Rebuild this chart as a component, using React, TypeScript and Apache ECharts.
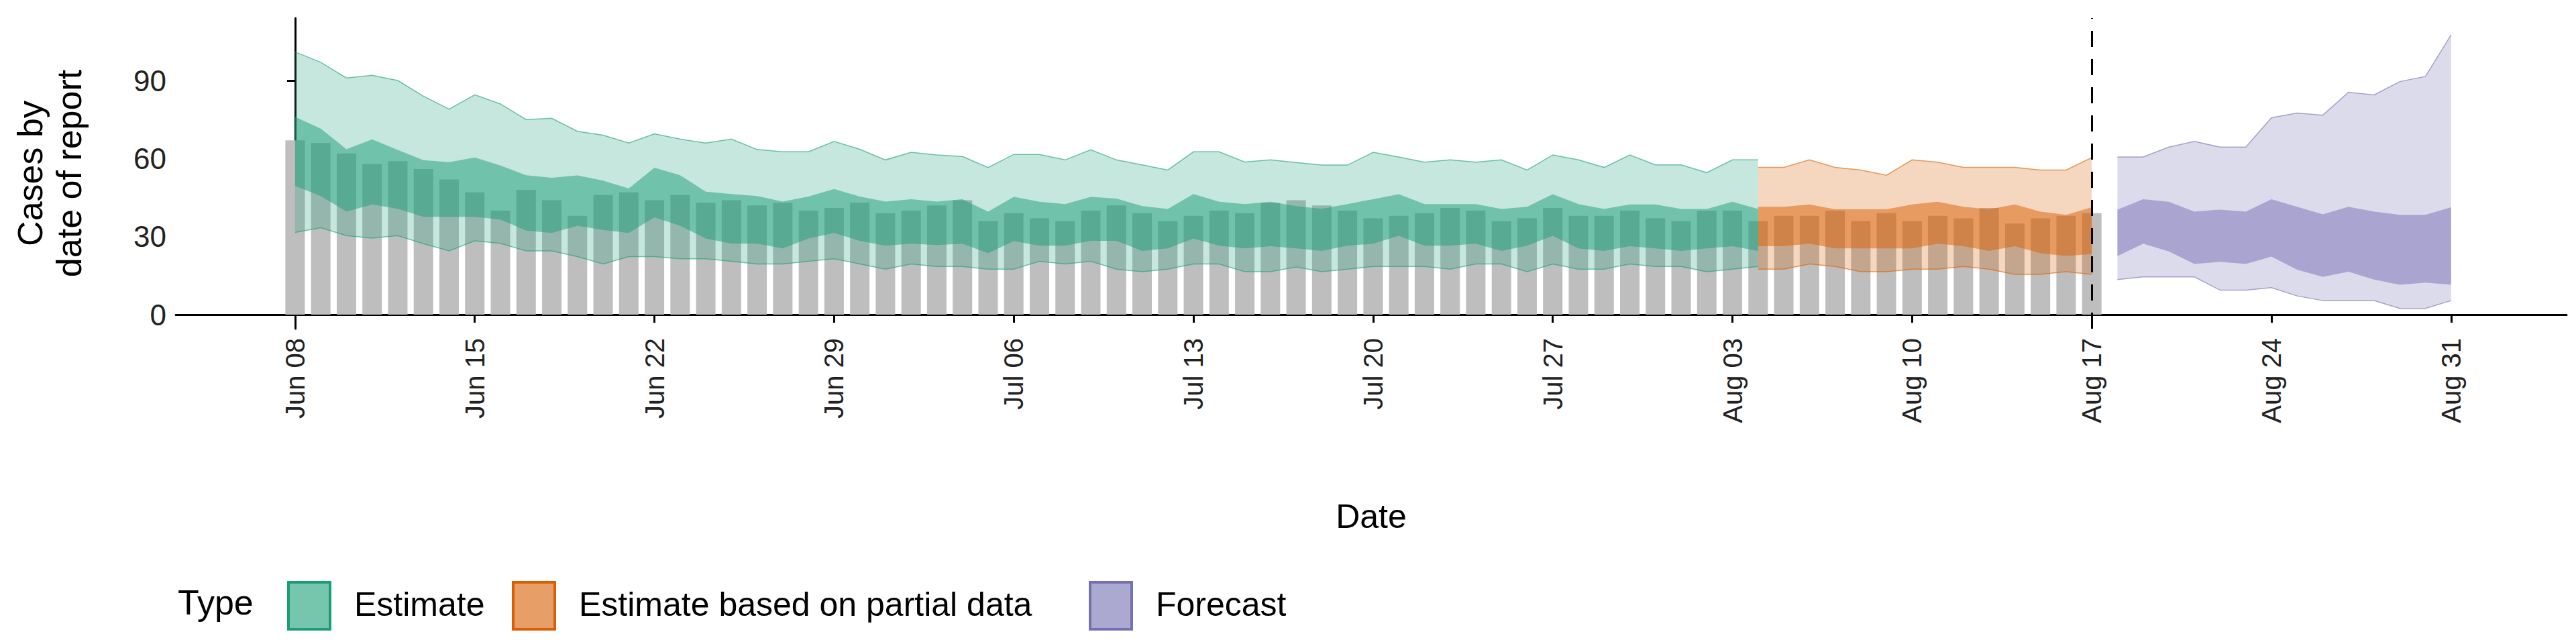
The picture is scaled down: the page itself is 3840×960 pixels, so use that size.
import React, { useEffect, useRef } from "react";
import * as echarts from "echarts";

// day 0 = Jun 08
const startDay = { month: 5, day: 8 };
const months = ["Jan", "Feb", "Mar", "Apr", "May", "Jun", "Jul", "Aug", "Sep", "Oct", "Nov", "Dec"];
const yTicks = [0, 30, 60, 90];
const xTicks = [0, 7, 14, 21, 28, 35, 42, 49, 56, 63, 70, 77, 84];

// reported cases Jun 08 .. Aug 17
const reported = [
  67, 66, 62, 58, 59, 56, 52, 47, 40, 48, 44, 38, 46, 47, 44, 46, 43, 44, 42, 43, 40, 41, 43, 39, 40,
  42, 44, 36, 39, 37, 36, 40, 42, 39, 36, 38, 40, 39, 43, 44, 42, 40, 37, 38, 39, 41, 40, 36, 37, 41, 38,
  38, 40, 37, 36, 40, 40, 36, 38, 38, 40, 36, 39, 36, 38, 37, 41, 35, 37, 38, 39,
];

// Estimate: Jun 08 .. Aug 03 (days 0..56)
const estStart = 0;
const estUpper90 = [
  101, 97, 91, 92, 90, 84, 79, 84.5, 81, 75, 75.5, 70.5, 69, 66, 69.5, 67.5, 66, 67.5, 63.5, 62.6, 62.6, 66.6, 63.6, 59.5, 62.4,
  61.4, 60.8, 56.6, 61.6, 61.6, 59.5, 63.4, 59.5, 57.6, 55.6, 62.6, 62.6, 58.7, 59.5, 58.5, 57.5, 57.5, 62.4, 60.6, 58.6, 59.5, 58.6, 59.5, 55.6, 61.4, 59.5,
  56.6, 61.4, 57.6, 57.6, 54.6, 59.5, 59.5,
];
const estUpper50 = [
  76, 71.5, 63.6, 67.4, 63.3, 59.4, 58.6, 60.4, 57.3, 53.6, 52.6, 53.5, 51.5, 48.5, 56.5, 53.6, 47.3, 46.4, 45.6, 43.5, 45.4, 48.3, 45.4, 43.5, 44.4,
  43.5, 44.4, 39.6, 45.3, 43.4, 42.5, 45.3, 44.6, 41.7, 40.6, 46.4, 43.4, 42.5, 43.4, 41.7, 40.7, 42.5, 44.4, 46.3, 42.5, 42.5, 42.5, 40.6, 41.5, 46.3, 42.5,
  40.6, 42.4, 42.4, 40.6, 40.6, 43.4, 40.6,
];
const estLower50 = [
  49.5, 45.6, 39.6, 42.4, 40.7, 37.6, 37.6, 37.6, 36.6, 32.3, 31.4, 34.2, 32.6, 31.4, 37.4, 34.2, 29.3, 27.3, 27.3, 25.5, 29.3, 31.4, 28.4, 26.5, 27.3,
  26.8, 27.3, 23.6, 28.3, 26.5, 26.5, 28.4, 28.4, 24.5, 25.5, 29.3, 26.5, 25.5, 26.3, 25.5, 24.5, 26.5, 27.3, 30.3, 26.5, 26.5, 27.3, 24.5, 26.5, 30.3, 25.5,
  24.5, 26.3, 25.5, 24.5, 25.5, 26.3, 24.5,
];
const estLower90 = [
  31.6, 33.4, 30.4, 29.4, 30.4, 27.3, 24.5, 28.4, 27.4, 24.5, 24.5, 22.3, 19.5, 22.3, 22.3, 21.5, 21.5, 20.5, 19.5, 19.5, 20.5, 21.5, 19.5, 17.5, 19.5,
  18.5, 18.5, 17.5, 17.5, 20.5, 19.5, 20.5, 17.5, 16.5, 17.5, 19.5, 19.5, 16.5, 16.5, 18.3, 16.5, 17.5, 18.5, 18.5, 18.5, 17.5, 19.5, 19.5, 16.5, 19.5, 17.5,
  17.5, 19.5, 18.5, 18.5, 16.5, 17.5, 18.5,
];

// Estimate based on partial data: Aug 04 .. Aug 17 (days 57..70)
const partStart = 57;
const partUpper90 = [56.6, 56.6, 59.5, 56.6, 55.6, 53.6, 59.5, 58.6, 56.6, 56.6, 56.6, 55.6, 55.6, 60.4];
const partUpper50 = [41.5, 41.5, 42.4, 40.5, 40.5, 40.5, 42.4, 43.4, 41.5, 40.5, 42.4, 39.6, 38.4, 41.3];
const partLower50 = [26.3, 26.3, 27.3, 25.5, 25.5, 25.5, 25.5, 27.3, 26.3, 24.5, 26.3, 23.6, 22.6, 23.3];
const partLower90 = [17.5, 17.5, 19.5, 18.5, 16.5, 16.5, 17.5, 17.5, 18.5, 17.5, 15.5, 15.5, 16.5, 15.5];

// Forecast: Aug 18 .. Aug 31 (days 71..84)
const foreStart = 71;
const foreUpper90 = [60.6, 60.6, 64.4, 66.6, 64.4, 64.4, 75.7, 77.5, 76.7, 85.5, 84.5, 89.6, 91.6, 107.6];
const foreUpper50 = [40.4, 44.4, 43.4, 39.6, 40.4, 39.6, 44.4, 41.5, 38.6, 41.5, 39.6, 38.4, 38.4, 41.3];
const foreLower50 = [22.5, 27.3, 24.3, 19.5, 20.3, 19.5, 22.3, 17.3, 14.5, 16.5, 13.5, 11.5, 12.3, 11.5];
const foreLower90 = [13.5, 14.5, 14.5, 14.5, 9.4, 9.4, 10.4, 7.2, 5.4, 5.4, 5.4, 2.4, 2.4, 5.4];

const nowcastDay = 70;

const dayLabel = (i: number) => {
  const d = new Date(2020, startDay.month, startDay.day + i);
  return `${months[d.getMonth()]} ${String(d.getDate()).padStart(2, "0")}`;
};

// ribbon drawn as one polygon through the axis scales
const band = (start: number, lower: number[], upper: number[], rgb: string, alpha: number, edges: boolean) => ({
  type: "custom",
  silent: true,
  z: 3,
  data: lower.map((v, i) => [start + i, v, upper[i]]),
  encode: { x: 0, y: [1, 2] },
  renderItem: (params: any, api: any) => {
    if (params.dataIndex !== 0) return null;
    const lo = lower.map((v, i) => api.coord([start + i, v]));
    const hi = upper.map((v, i) => api.coord([start + i, v]));
    const children: any[] = [
      {
        type: "polygon",
        shape: { points: [...hi, ...lo.slice().reverse()] },
        style: { fill: `rgba(${rgb},${alpha})` },
      },
    ];
    if (edges) {
      const s = { fill: "none", stroke: `rgba(${rgb},0.6)`, lineWidth: 1.5 };
      children.push({ type: "polyline", shape: { points: hi }, style: s });
      children.push({ type: "polyline", shape: { points: lo }, style: s });
    }
    return { type: "group", children };
  },
});

const GREEN = "27,158,119";
const ORANGE = "217,95,2";
const PURPLE = "117,112,179";

const legendItems = [
  { label: "Estimate", x: 430, rgb: GREEN },
  { label: "Estimate based on partial data", x: 765, rgb: ORANGE },
  { label: "Forecast", x: 1625, rgb: PURPLE },
];

const App = () => {
  const chartRef = useRef(null);

  useEffect(() => {
    document.body.style.margin = "0";
    const chart = echarts.init(chartRef.current, null, { renderer: "svg" });
    const font = "Liberation Sans";
    chart.setOption({
      animation: false,
      textStyle: { fontFamily: font },
      grid: { left: 262, right: 14, top: 27, height: 463 },
      xAxis: {
        type: "value",
        min: -4.65,
        max: 88.5,
        splitLine: { show: false },
        axisLine: { lineStyle: { color: "#000", width: 3 } },
        axisTick: { length: 12, lineStyle: { color: "#000", width: 3 }, customValues: xTicks },
        axisLabel: {
          customValues: xTicks, rotate: 90, fontSize: 40, color: "#222", margin: 14,
          formatter: (v: number) => dayLabel(v),
        },
        name: "Date",
        nameLocation: "middle",
        nameGap: 255,
        nameTextStyle: { fontSize: 50, color: "#000" },
      },
      yAxis: {
        type: "value",
        min: -5.4,
        max: 114,
        splitLine: { show: false },
        axisLine: { show: true, lineStyle: { color: "#000", width: 3 } },
        axisTick: { show: true, length: 12, lineStyle: { color: "#000", width: 3 }, customValues: yTicks },
        axisLabel: { customValues: yTicks, fontSize: 44, color: "#222", margin: 14 },
        name: "Cases by\ndate of report",
        nameLocation: "middle",
        nameGap: 130,
        nameTextStyle: { fontSize: 52, color: "#000", lineHeight: 58 },
      },
      series: [
        {
          type: "bar",
          barWidth: 29,
          z: 1,
          itemStyle: { color: "#bebebe" },
          data: reported.map((v, i) => [i, v]),
          markLine: {
            silent: true,
            symbol: "none",
            label: { show: false },
            lineStyle: { color: "#000", type: [24, 18], width: 3 },
            data: [{ xAxis: nowcastDay }],
          },
        },
        band(estStart, estLower90, estUpper90, GREEN, 0.25, true),
        band(estStart, estLower50, estUpper50, GREEN, 0.5, false),
        band(partStart, partLower90, partUpper90, ORANGE, 0.25, true),
        band(partStart, partLower50, partUpper50, ORANGE, 0.5, false),
        band(foreStart, foreLower90, foreUpper90, PURPLE, 0.25, true),
        band(foreStart, foreLower50, foreUpper50, PURPLE, 0.5, false),
      ],
      graphic: [
        { type: "text", left: 265, top: 872, style: { text: "Type", fontSize: 52, fontFamily: font, fill: "#000" } },
        ...legendItems.flatMap((it) => [
          {
            type: "rect", shape: { x: it.x, y: 868, width: 62, height: 70 },
            style: { fill: `rgba(${it.rgb},0.6)`, stroke: `rgb(${it.rgb})`, lineWidth: 4 },
          },
          {
            type: "text", left: it.x + 98, top: 876,
            style: { text: it.label, fontSize: 50, fontFamily: font, fill: "#000" },
          },
        ]),
      ],
    });
    return () => {
      chart.dispose();
    };
  }, []);

  return <div ref={chartRef} style={{ width: "3840px", height: "960px" }}></div>;
};

export default App;
